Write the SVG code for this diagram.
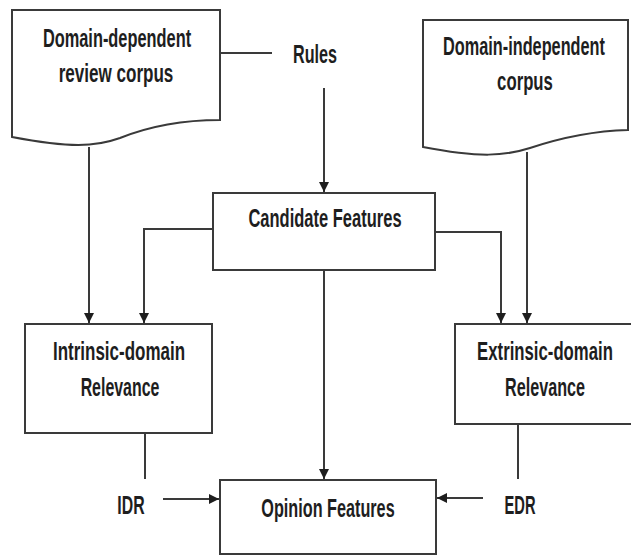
<svg xmlns="http://www.w3.org/2000/svg" width="631" height="556" viewBox="0 0 631 556">
<style>
.shape{fill:#fff;stroke:#3a3a3a;stroke-width:2}
.line{fill:none;stroke:#3a3a3a;stroke-width:2}
text{font-family:"Liberation Sans","DejaVu Sans",sans-serif;font-weight:bold;font-size:26px;fill:#1e1e1e;text-anchor:middle}
</style>
<defs>
<marker id="arr" viewBox="0 0 10 10" refX="10" refY="5" markerWidth="10" markerHeight="10" markerUnits="userSpaceOnUse" orient="auto">
<path d="M0,0 L10,5 L0,10 Z" fill="#1e1e1e"/>
</marker>
</defs>
<rect width="631" height="556" fill="#fff"/>
<g id="connectors">
<line class="line" x1="220" y1="53" x2="272" y2="53"/>
<line class="line" x1="89" y1="147" x2="89" y2="323" marker-end="url(#arr)"/>
<line class="line" x1="324" y1="88" x2="324" y2="192" marker-end="url(#arr)"/>
<polyline class="line" points="213,229 144,229 144,323" marker-end="url(#arr)"/>
<polyline class="line" points="435,232 501,232 501,323" marker-end="url(#arr)"/>
<line class="line" x1="527" y1="152" x2="527" y2="323" marker-end="url(#arr)"/>
<line class="line" x1="324" y1="270" x2="324" y2="479" marker-end="url(#arr)"/>
<line class="line" x1="145" y1="433" x2="145" y2="479"/>
<line class="line" x1="518" y1="424" x2="518" y2="479"/>
<line class="line" x1="163" y1="499" x2="219" y2="499" marker-end="url(#arr)"/>
<line class="line" x1="483" y1="498" x2="437" y2="498" marker-end="url(#arr)"/>
</g>
<g id="domain-dependent-corpus">
<path class="shape" d="M12,10 H220 V120 C180,120 150,126 120,138 C95,147 70,148 12,137 Z"/>
<text transform="translate(117,47) scale(0.62,1)" textLength="239" lengthAdjust="spacingAndGlyphs">Domain-dependent</text>
<text transform="translate(116,82) scale(0.62,1)" textLength="185" lengthAdjust="spacingAndGlyphs">review corpus</text>
</g>
<g id="rules">
<text transform="translate(315,63) scale(0.62,1)" textLength="71" lengthAdjust="spacingAndGlyphs">Rules</text>
</g>
<g id="domain-independent-corpus">
<path class="shape" d="M423,20 H628 V130 C590,131 560,138 530,148 C505,156 480,158 423,147 Z"/>
<text transform="translate(524,55) scale(0.62,1)" textLength="261" lengthAdjust="spacingAndGlyphs">Domain-independent</text>
<text transform="translate(525,90) scale(0.62,1)" textLength="90" lengthAdjust="spacingAndGlyphs">corpus</text>
</g>
<g id="candidate-features">
<rect class="shape" x="213" y="193" width="222" height="77"/>
<text transform="translate(325,227) scale(0.62,1)" textLength="247" lengthAdjust="spacingAndGlyphs">Candidate Features</text>
</g>
<g id="intrinsic-domain-relevance">
<rect class="shape" x="25" y="324" width="187" height="109"/>
<text transform="translate(119,360) scale(0.62,1)" textLength="213" lengthAdjust="spacingAndGlyphs">Intrinsic-domain</text>
<text transform="translate(120,396) scale(0.62,1)" textLength="127" lengthAdjust="spacingAndGlyphs">Relevance</text>
</g>
<g id="extrinsic-domain-relevance">
<rect class="shape" x="455" y="324" width="180" height="100"/>
<text transform="translate(545,360) scale(0.62,1)" textLength="219" lengthAdjust="spacingAndGlyphs">Extrinsic-domain</text>
<text transform="translate(545,396) scale(0.62,1)" textLength="129" lengthAdjust="spacingAndGlyphs">Relevance</text>
</g>
<g id="opinion-features">
<rect class="shape" x="220" y="480" width="216" height="74"/>
<text transform="translate(328,517) scale(0.62,1)" textLength="215" lengthAdjust="spacingAndGlyphs">Opinion Features</text>
</g>
<g id="idr">
<text transform="translate(131,514) scale(0.62,1)" textLength="44" lengthAdjust="spacingAndGlyphs">IDR</text>
</g>
<g id="edr">
<text transform="translate(520,514) scale(0.62,1)" textLength="50" lengthAdjust="spacingAndGlyphs">EDR</text>
</g>
</svg>
